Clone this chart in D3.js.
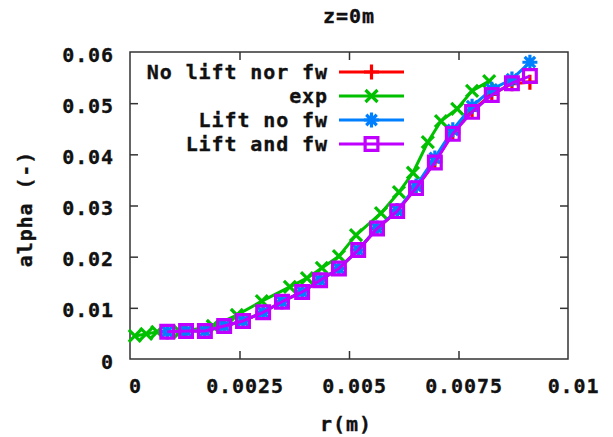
<!DOCTYPE html>
<html>
<head>
<meta charset="utf-8">
<script src="https://cdn.jsdelivr.net/npm/d3@7"></script>
<style>
  html, body { margin: 0; padding: 0; background: #ffffff; }
  svg { display: block; }
  text { font-family: "DejaVu Sans Mono", "Liberation Mono", monospace; font-weight: bold; fill: #111; }
</style>
</head>
<body>
<svg id="chart" width="613" height="437"></svg>
<script>
// ---- data ----
const titleText = "z=0m";
const xLabel = "r(m)";
const yLabel = "alpha (-)";
const xTicks = [0, 0.0025, 0.005, 0.0075, 0.01];
const xTickLabels = ["0", "0.0025", "0.005", "0.0075", "0.01"];
const yTicks = [0, 0.01, 0.02, 0.03, 0.04, 0.05, 0.06];
const yTickLabels = ["0", "0.01", "0.02", "0.03", "0.04", "0.05", "0.06"];

const seriesNames = ["No lift nor fw", "exp", "Lift no fw", "Lift and fw"];

// model grid (r, m)
const rModel = [0.00085, 0.00128, 0.00171, 0.00215, 0.00258, 0.00304, 0.00347, 0.00393, 0.00434, 0.00477,
                0.00521, 0.00564, 0.0061, 0.00653, 0.00696, 0.00737, 0.00781, 0.00826, 0.00872, 0.00913];
const alphaNoLift = [0.00534, 0.00547, 0.00547, 0.00645, 0.00743, 0.00913, 0.0112, 0.0131, 0.0154, 0.0177,
                     0.0213, 0.0255, 0.0289, 0.0334, 0.0385, 0.0442, 0.0486, 0.0517, 0.0538, 0.0541];
const alphaLiftNoFw = [0.00534, 0.00547, 0.00547, 0.00645, 0.00743, 0.00913, 0.0112, 0.0131, 0.0154, 0.0177,
                       0.0213, 0.0256, 0.0290, 0.0338, 0.0393, 0.0448, 0.0494, 0.0527, 0.0547, 0.0580];
const alphaLiftFw = [0.00534, 0.00547, 0.00547, 0.00645, 0.00743, 0.00913, 0.0112, 0.0131, 0.0154, 0.0177,
                     0.0213, 0.0255, 0.0289, 0.0334, 0.0384, 0.0440, 0.0483, 0.0516, 0.0539, 0.0553];

// experiment
const rExp = [0.00011, 0.00037, 0.00062, 0.00114, 0.00189, 0.00244, 0.00301, 0.00365, 0.00404, 0.00438,
              0.00477, 0.00516, 0.00573, 0.00614, 0.00646, 0.0068, 0.0071, 0.00747, 0.00781, 0.0082];
const alphaExp = [0.0045, 0.0049, 0.0053, 0.0053, 0.00645, 0.0086, 0.0113, 0.0141, 0.0158, 0.0178,
                  0.0201, 0.0242, 0.0285, 0.0326, 0.0364, 0.0424, 0.0465, 0.0489, 0.0524, 0.0543];

const colors = ["#ff0000", "#00c000", "#0080ff", "#c000ff"];
const markers = ["plus", "cross", "star", "square"];

// ---- layout ----
const svg = d3.select("#chart");
const L = 130, R = 568, T = 52, B = 359;
const x = d3.scaleLinear().domain([0, 0.01]).range([L, R]);
const y = d3.scaleLinear().domain([0, 0.06]).range([B, T]);

const FS = 20, LS = 0.9;

function styleText(sel) {
  return sel.attr("font-size", FS).attr("letter-spacing", LS)
    .attr("font-family", "DejaVu Sans Mono").attr("font-weight", "bold")
    .attr("fill", "#111").attr("stroke", "#111").attr("stroke-width", 0.35);
}

// title
styleText(svg.append("text").attr("x", 349).attr("y", 16).attr("dy", "0.35em")
  .attr("text-anchor", "middle").text(titleText));

// axes via d3 axis generators (inward ticks, mirrored)
const tickLen = 8;
const gx = svg.append("g").attr("transform", `translate(0,${B})`)
  .call(d3.axisBottom(x).tickValues(xTicks).tickSize(-tickLen).tickFormat((d, i) => xTickLabels[i]).tickPadding(20));
const gxTop = svg.append("g").attr("transform", `translate(0,${T})`)
  .call(d3.axisTop(x).tickValues(xTicks).tickSize(-tickLen).tickFormat(""));
const gy = svg.append("g").attr("transform", `translate(${L},0)`)
  .call(d3.axisLeft(y).tickValues(yTicks).tickSize(-tickLen).tickFormat((d, i) => yTickLabels[i]).tickPadding(17));
const gyR = svg.append("g").attr("transform", `translate(${R},0)`)
  .call(d3.axisRight(y).tickValues(yTicks).tickSize(-tickLen).tickFormat(""));

[gx, gxTop, gy, gyR].forEach(g => {
  g.select(".domain").remove();
  g.selectAll(".tick line").attr("stroke", "#333").attr("stroke-width", 1.5);
  styleText(g.selectAll(".tick text"));
});
// drop end ticks that coincide with frame
gx.selectAll(".tick").filter(d => d === 0 || d === 0.01).select("line").remove();
gxTop.selectAll(".tick").filter(d => d === 0 || d === 0.01).remove();
gy.selectAll(".tick").filter(d => d === 0 || d === 0.06).select("line").remove();
gyR.selectAll(".tick").filter(d => d === 0 || d === 0.06).remove();
gx.selectAll(".tick text").attr("dx", 5).attr("dy", "0.71em");
gy.selectAll(".tick text").attr("dy", "0.45em").attr("dx", 1);

// frame
svg.append("rect").attr("x", L).attr("y", T).attr("width", R - L).attr("height", B - T)
  .attr("fill", "none").attr("stroke", "#333").attr("stroke-width", 1.5);

// axis labels
styleText(svg.append("text").attr("x", 346).attr("y", 424).attr("dy", "0.35em")
  .attr("text-anchor", "middle").text(xLabel));
styleText(svg.append("text").attr("transform", "translate(25,209) rotate(-90)").attr("dy", "0.35em")
  .attr("text-anchor", "middle").text(yLabel));

// marker paths
function markerPath(type, s) {
  const h = s / 2;
  if (type === "plus") return `M${-h},0H${h}M0,${-h}V${h}`;
  if (type === "cross") return `M${-h*0.8},${-h*0.8}L${h*0.8},${h*0.8}M${-h*0.8},${h*0.8}L${h*0.8},${-h*0.8}`;
  if (type === "star") return `M${-h},0H${h}M0,${-h}V${h}M${-h*0.7},${-h*0.7}L${h*0.7},${h*0.7}M${-h*0.7},${h*0.7}L${h*0.7},${-h*0.7}`;
  const q = h * 0.85;
  return `M${-q},${-q}H${q}V${q}H${-q}Z`;
}

const series = [
  { r: rModel, a: alphaNoLift },
  { r: rExp, a: alphaExp },
  { r: rModel, a: alphaLiftNoFw },
  { r: rModel, a: alphaLiftFw }
];

const line = d3.line().x(d => x(d[0])).y(d => y(d[1]));
const plot = svg.append("g");
series.forEach((s, i) => {
  const pts = s.r.map((r, j) => [r, s.a[j]]);
  const g = plot.append("g");
  g.append("path").datum(pts).attr("d", line)
    .attr("fill", "none").attr("stroke", colors[i]).attr("stroke-width", 3).attr("stroke-linejoin", "round");
  g.selectAll("path.m").data(pts).join("path").attr("class", "m")
    .attr("transform", d => `translate(${x(d[0])},${y(d[1])})`)
    .attr("d", markerPath(markers[i], 15))
    .attr("fill", "none").attr("stroke", colors[i]).attr("stroke-width", 3.2);
});

// legend
const legY0 = 72, legDy = 24, legTextX = 328, legX1 = 339, legX2 = 404;
seriesNames.forEach((name, i) => {
  const yy = legY0 + i * legDy;
  styleText(svg.append("text").attr("x", legTextX).attr("y", yy).attr("dy", "0.36em")
    .attr("text-anchor", "end").text(name));
  svg.append("line").attr("x1", legX1).attr("x2", legX2).attr("y1", yy).attr("y2", yy)
    .attr("stroke", colors[i]).attr("stroke-width", 3);
  svg.append("path").attr("transform", `translate(${(legX1 + legX2) / 2},${yy})`)
    .attr("d", markerPath(markers[i], 15)).attr("fill", "none")
    .attr("stroke", colors[i]).attr("stroke-width", 3.2);
});
</script>
</body>
</html>
